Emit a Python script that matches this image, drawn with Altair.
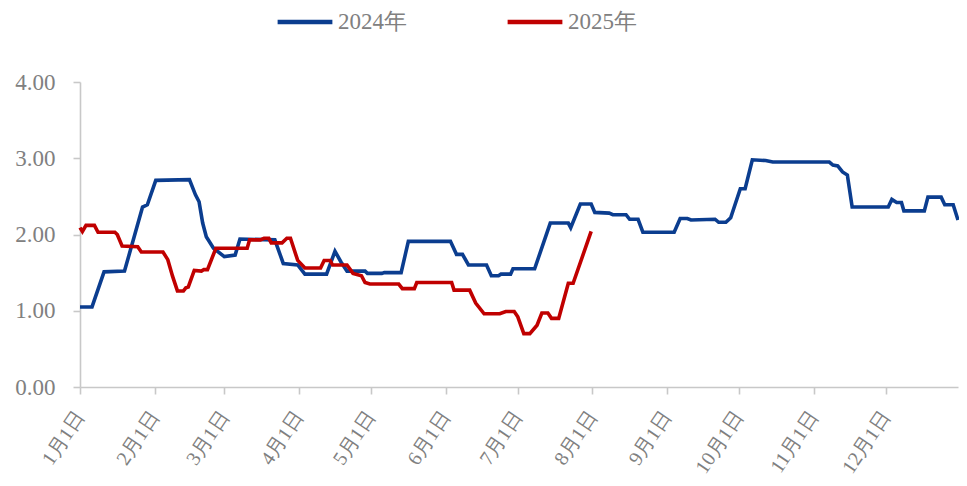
import json
import altair as alt
import pandas as pd

# ---- data (day offset from Jan 1, value) ----
days_2024 = [0, 5, 10, 18.5, 26, 28, 31.5, 45.5, 48, 49.5, 51, 52.5, 55.5, 60, 64.5, 66.5,
             81, 84.5, 90.5, 93.5, 102.5, 106, 108.5, 111, 118.5, 119.5, 125.5, 126.5,
             133.5, 136.5, 154, 156.5, 159, 161.5, 169, 171, 174, 175, 179, 180, 189,
             195.5, 203, 204, 208, 212.5, 214, 220, 221.5, 227, 228.5, 232, 234, 247,
             249.5, 252.5, 254, 264, 265.5, 268.5, 270.5, 274.5, 276.5, 279.5, 285, 288,
             311.5, 313, 315, 317, 319, 321, 336, 337.5, 339.5, 341.5, 342.5, 351, 352.5,
             358, 359.5, 363, 365]
vals_2024 = [1.05, 1.05, 1.51, 1.52, 2.36, 2.39, 2.71, 2.72, 2.52, 2.43, 2.15, 1.97, 1.82,
             1.71, 1.73, 1.94, 1.93, 1.62, 1.60, 1.48, 1.48, 1.78, 1.64, 1.52, 1.52, 1.49,
             1.49, 1.50, 1.50, 1.91, 1.91, 1.74, 1.74, 1.60, 1.60, 1.46, 1.46, 1.48, 1.48,
             1.55, 1.55, 2.15, 2.15, 2.09, 2.40, 2.40, 2.29, 2.28, 2.26, 2.26, 2.20, 2.20,
             2.03, 2.03, 2.21, 2.21, 2.19, 2.20, 2.16, 2.16, 2.22, 2.60, 2.60, 2.98, 2.97,
             2.95, 2.95, 2.91, 2.90, 2.82, 2.78, 2.36, 2.36, 2.46, 2.42, 2.42, 2.31, 2.31,
             2.49, 2.49, 2.39, 2.39, 2.19]

days_2025 = [0, 1, 2.5, 6, 7.5, 14.5, 15.5, 17.5, 24, 25.5, 34.5, 36.5, 38.5, 40.5, 43, 44,
             45, 47.5, 50.5, 51.5, 53, 56.5, 69.5, 70.5, 75, 76.5, 78.5, 79.5, 84, 86, 87.5,
             90.5, 93.5, 100, 101.5, 104, 105, 111, 113.5, 117, 118.5, 120.5, 132.5, 134,
             139, 140, 154.5, 155.5, 162, 164.5, 168, 174.5, 177, 180.5, 182, 184.5, 187,
             190, 192, 194.5, 196, 199, 203, 205, 212.5]
vals_2025 = [2.09, 2.04, 2.12, 2.12, 2.03, 2.03, 2.00, 1.85, 1.84, 1.77, 1.77, 1.67, 1.45,
             1.26, 1.26, 1.30, 1.31, 1.53, 1.52, 1.54, 1.54, 1.82, 1.82, 1.93, 1.93, 1.95,
             1.95, 1.89, 1.89, 1.95, 1.95, 1.66, 1.56, 1.56, 1.66, 1.66, 1.60, 1.60, 1.49,
             1.46, 1.37, 1.35, 1.35, 1.29, 1.29, 1.37, 1.37, 1.27, 1.27, 1.10, 0.96, 0.96,
             0.99, 0.99, 0.92, 0.70, 0.70, 0.81, 0.97, 0.97, 0.90, 0.90, 1.36, 1.36, 2.04]

series_names = ["2024年", "2025年"]
series_colors = ["#0b3d8f", "#c00000"]

month_days = [0, 31, 60, 91, 121, 152, 182, 213, 244, 274, 305, 335]
month_labels = ["1月1日", "2月1日", "3月1日", "4月1日", "5月1日", "6月1日",
                "7月1日", "8月1日", "9月1日", "10月1日", "11月1日", "12月1日"]
y_ticks = [0, 1, 2, 3, 4]

df = pd.concat([
    pd.DataFrame({"day": days_2024, "value": vals_2024, "series": series_names[0]}),
    pd.DataFrame({"day": days_2025, "value": vals_2025, "series": series_names[1]}),
], ignore_index=True)

FONT = "Times New Roman, Liberation Serif, serif"
TEXT = "#808080"
AXIS = "#c8c8c8"

label_expr = (json.dumps(month_labels, ensure_ascii=False)
              + "[indexof(" + json.dumps(month_days) + ", datum.value)]")

chart = alt.Chart(df).mark_line(strokeWidth=3.6, interpolate="linear").encode(
    x=alt.X("day:Q",
            scale=alt.Scale(domain=[0, 365], nice=False, zero=False),
            axis=alt.Axis(values=month_days, labelExpr=label_expr, title=None,
                          labelAngle=-56, labelAlign="right", labelBaseline="middle",
                          labelPadding=19, tickSize=7, labelFontSize=20,
                          labelColor=TEXT, labelFont=FONT, domainColor=AXIS,
                          tickColor=AXIS, domainWidth=1.6, tickWidth=1.6,
                          grid=False, labelOverlap=False, labelFlush=False)),
    y=alt.Y("value:Q",
            scale=alt.Scale(domain=[0, 4], nice=False),
            axis=alt.Axis(values=y_ticks, format=".2f", title=None, tickSize=7,
                          labelPadding=18, labelFontSize=23, labelColor=TEXT,
                          labelFont=FONT, domainColor=AXIS, tickColor=AXIS,
                          domainWidth=1.6, tickWidth=1.6, grid=False)),
    color=alt.Color("series:N",
                    scale=alt.Scale(domain=series_names, range=series_colors),
                    legend=alt.Legend(title=None, orient="none", direction="horizontal",
                                      legendX=195, legendY=-90, padding=0,
                                      symbolType="stroke", symbolSize=3000,
                                      symbolStrokeWidth=4.5, labelFontSize=23,
                                      labelFont=FONT, labelColor=TEXT,
                                      labelOffset=3, columnPadding=91)),
).properties(
    width=878, height=305,
    autosize=alt.AutoSizeParams(type="none"),
    padding={"left": 72, "top": 74, "right": 1, "bottom": 90},
).configure_view(stroke=None)

chart.save("out.html", embed_options={"renderer": "svg", "actions": False})
